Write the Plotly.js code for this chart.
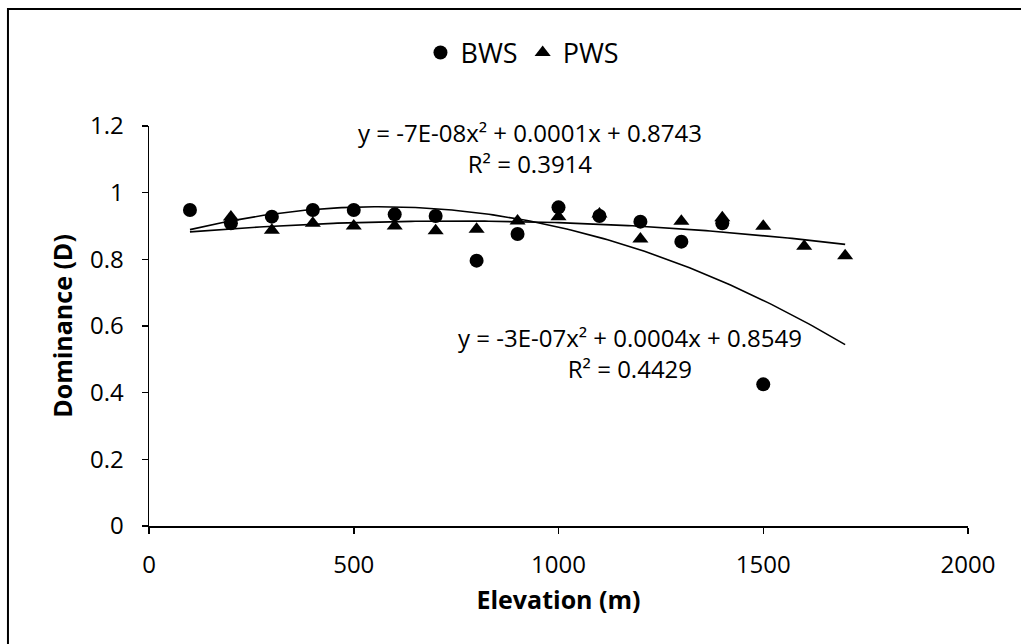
<!DOCTYPE html>
<html>
<head>
<meta charset="utf-8">
<script src="https://cdn.plot.ly/plotly-3.0.1.min.js"></script>
<style>
  html, body { margin: 0; padding: 0; background: #fff; }
  #chart { width: 1021px; height: 644px; }
</style>
</head>
<body>
<div id="chart"></div>
<script>
// ---- Data ----
const bwsElevation = [100, 200, 300, 400, 500, 600, 700, 800, 900, 1000, 1100, 1200, 1300, 1400, 1500];
const bwsDominance = [0.948, 0.908, 0.928, 0.948, 0.948, 0.935, 0.930, 0.796, 0.876, 0.956, 0.930, 0.913, 0.853, 0.908, 0.425];

const pwsElevation = [200, 300, 400, 500, 600, 700, 800, 900, 1000, 1100, 1200, 1300, 1400, 1500, 1600, 1700];
const pwsDominance = [0.927, 0.887, 0.908, 0.900, 0.900, 0.886, 0.890, 0.915, 0.928, 0.936, 0.861, 0.914, 0.925, 0.899, 0.839, 0.811];

const seriesNames = ["BWS", "PWS"];
const trendRange = [100, 1700];
const bwsEquation = "y = -3E-07x² + 0.0004x + 0.8549<br>R² = 0.4429";
const pwsEquation = "y = -7E-08x² + 0.0001x + 0.8743<br>R² = 0.3914";
const xTickVals = [0, 500, 1000, 1500, 2000];
const yTickVals = [0, 0.2, 0.4, 0.6, 0.8, 1, 1.2];

// ---- Least-squares quadratic fit (polynomial trendline, order 2) ----
function quadFit(xs, ys) {
  const s = 1000; // scale for numerical stability
  let S = [0, 0, 0, 0, 0], T = [0, 0, 0];
  for (let i = 0; i < xs.length; i++) {
    const x = xs[i] / s, y = ys[i];
    let p = 1;
    for (let k = 0; k < 5; k++) { S[k] += p; if (k < 3) T[k] += p * y; p *= x; }
  }
  const A = [[S[0], S[1], S[2], T[0]], [S[1], S[2], S[3], T[1]], [S[2], S[3], S[4], T[2]]];
  for (let c = 0; c < 3; c++) {
    let piv = c;
    for (let r = c + 1; r < 3; r++) if (Math.abs(A[r][c]) > Math.abs(A[piv][c])) piv = r;
    [A[c], A[piv]] = [A[piv], A[c]];
    for (let r = 0; r < 3; r++) {
      if (r === c) continue;
      const f = A[r][c] / A[c][c];
      for (let k = c; k < 4; k++) A[r][k] -= f * A[c][k];
    }
  }
  const c0 = A[0][3] / A[0][0], c1 = A[1][3] / A[1][1], c2 = A[2][3] / A[2][2];
  return x => c0 + c1 * (x / s) + c2 * (x / s) * (x / s);
}
function trendPoints(xs, ys) {
  const f = quadFit(xs, ys);
  const tx = [], ty = [];
  for (let x = trendRange[0]; x <= trendRange[1]; x += 10) { tx.push(x); ty.push(f(x)); }
  return { x: tx, y: ty };
}
const bwsTrend = trendPoints(bwsElevation, bwsDominance);
const pwsTrend = trendPoints(pwsElevation, pwsDominance);

const FONT = "Open Sans, Noto Sans, sans-serif";

const traces = [
  { x: bwsTrend.x, y: bwsTrend.y, mode: "lines", line: { color: "#000", width: 1.6 },
    showlegend: false, hoverinfo: "skip" },
  { x: pwsTrend.x, y: pwsTrend.y, mode: "lines", line: { color: "#000", width: 1.6 },
    showlegend: false, hoverinfo: "skip" },
  { x: bwsElevation, y: bwsDominance, name: seriesNames[0], mode: "markers", type: "scatter",
    marker: { symbol: "circle", size: 14, color: "#000" } },
  { x: pwsElevation, y: pwsDominance, name: seriesNames[1], mode: "markers", type: "scatter",
    marker: { symbol: "triangle-up", size: 14, color: "#000" } }
];

const layout = {
  width: 1021, height: 644,
  margin: { l: 149, r: 53, t: 126, b: 118, pad: 0 },
  paper_bgcolor: "#fff", plot_bgcolor: "#fff",
  font: { family: FONT, size: 24, color: "#000" },
  showlegend: true,
  legend: { orientation: "h", x: 0.456, xanchor: "center", y: 1.1825, yanchor: "middle",
            font: { family: FONT, size: 27, color: "#000" }, itemwidth: 30, tracegroupgap: 0 },
  xaxis: {
    range: [0, 2000], tickvals: xTickVals, ticks: "outside", ticklen: 6, tickwidth: 1.5, tickcolor: "#000",
    showline: true, linecolor: "#000", linewidth: 1.5, showgrid: false, zeroline: false,
    ticklabelstandoff: 11,
    tickfont: { family: FONT, size: 24, color: "#000" },
    title: { text: "<b>Elevation (m)</b>", font: { family: FONT, size: 25, color: "#000" }, standoff: 12 }
  },
  yaxis: {
    range: [0, 1.2], tickvals: yTickVals, ticks: "outside", ticklen: 6, tickwidth: 1.5, tickcolor: "#000",
    showline: true, linecolor: "#000", linewidth: 1.5, showgrid: false, zeroline: false,
    ticklabelstandoff: 13,
    tickfont: { family: FONT, size: 24, color: "#000" },
    title: { text: "<b>Dominance (D)</b>", font: { family: FONT, size: 25, color: "#000" }, standoff: 10 }
  },
  annotations: [
    { xref: "x", yref: "y", x: 1175, y: 0.52, text: bwsEquation, showarrow: false,
      align: "center", xanchor: "center", yanchor: "middle", font: { family: FONT, size: 24, color: "#000" } },
    { xref: "x", yref: "y", x: 930, y: 1.133, text: pwsEquation, showarrow: false,
      align: "center", xanchor: "center", yanchor: "middle", font: { family: FONT, size: 24, color: "#000" } }
  ],
  shapes: [
    { type: "rect", xref: "paper", yref: "paper", x0: -0.1722, x1: 1.3, y0: -0.6, y1: 1.2925,
      line: { color: "#000", width: 2 }, fillcolor: "rgba(0,0,0,0)", layer: "above" }
  ]
};

Plotly.newPlot("chart", traces, layout, { displayModeBar: false, staticPlot: true });
</script>
</body>
</html>
